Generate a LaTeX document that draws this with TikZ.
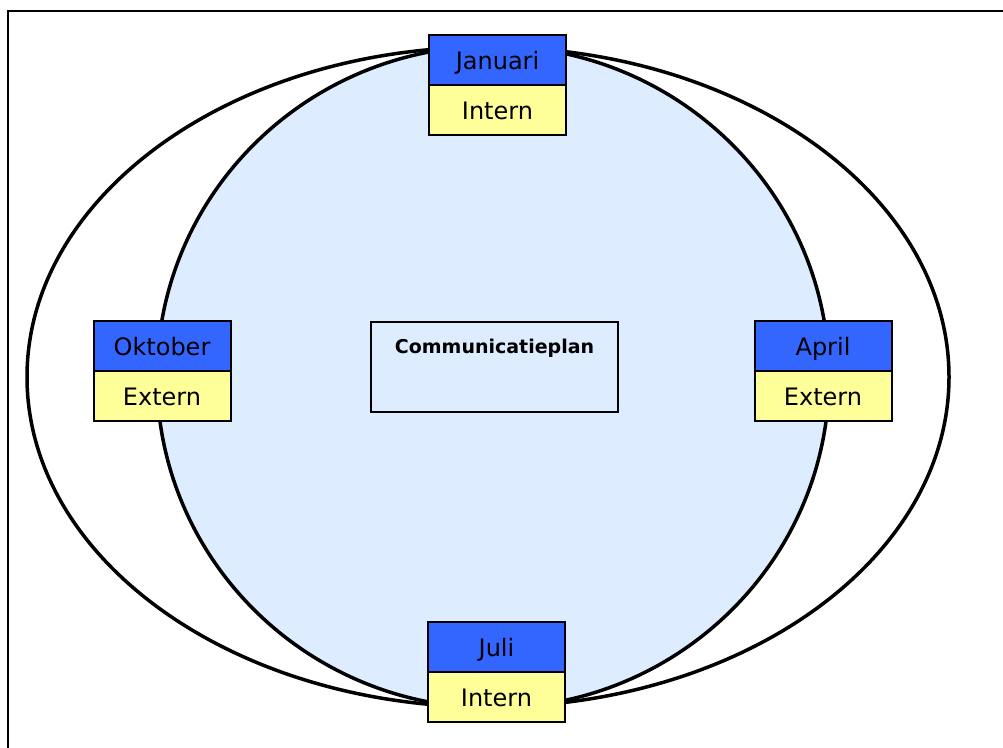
\documentclass[tikz,border=0pt]{standalone}
\usepackage{fontspec}
\setmainfont{DejaVu Sans}
\usetikzlibrary{positioning}

\definecolor{monthblue}{RGB}{51,102,255}
\definecolor{kindyellow}{RGB}{255,255,153}
\definecolor{planblue}{RGB}{221,236,255}

\tikzstyle{month}=[draw,line width=2pt,fill=monthblue,minimum width=137pt,minimum height=50pt,inner sep=0pt,outer sep=0pt,text height=22pt,text depth=3pt,font=\fontsize{24}{28}\selectfont]
\tikzstyle{kind}=[month,fill=kindyellow]
\tikzstyle{plan}=[draw,line width=1.5pt,fill=planblue,minimum width=247pt,minimum height=90pt,inner sep=0pt]

\begin{document}
\begin{tikzpicture}[x=1pt, y=-1pt]
		\useasboundingbox (0,0) rectangle (1003,747);
		\draw [line width=2.5pt] (8,11) rectangle (1020,770);

		% year ring and quarter circle
		\draw [line width=3.5pt] (488,377) ellipse [x radius=461, y radius=330];
		\draw [line width=3.5pt, fill=planblue] (493,377) ellipse [x radius=336, y radius=331];

		\node [plan] (plan)     at (494.5,367) {};
		\node [anchor=base, font=\fontsize{19}{23}\selectfont\bfseries] (plantext) at (494.5,353) {Communicatieplan};

		\node [month] (januari) at (497.5,59.5)  {Januari};
		\node [kind, below=0pt of januari] (intern1) {Intern};
		\node [month] (april)   at (823,345.5)   {April};
		\node [kind, below=0pt of april]   (extern2) {Extern};
		\node [month] (juli)    at (496.5,646.5) {Juli};
		\node [kind, below=0pt of juli]    (intern2) {Intern};
		\node [month] (oktober) at (162,345.5)   {Oktober};
		\node [kind, below=0pt of oktober] (extern1) {Extern};
	\end{tikzpicture}
\end{document}
